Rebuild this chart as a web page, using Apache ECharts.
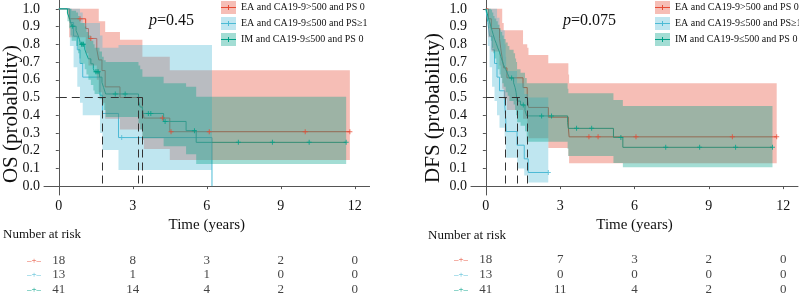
<!DOCTYPE html>
<html lang="en">
<head>
<meta charset="UTF-8">
<title>KM curves</title>
<script src="https://cdn.jsdelivr.net/npm/echarts@6/dist/echarts.min.js"></script>
<style>
  body { margin: 0; background: #fff; }
  #main { width: 799px; height: 297px; }
</style>
</head>
<body>
<div id="main"></div>
<script>
var groupNames = ['EA and CA19-9>500 and PS 0', 'EA and CA19-9\u2264500 and PS\u22651', 'IM and CA19-9\u2264500 and PS 0'];
var riskTimes = [0, 3, 6, 9, 12];
var xTicks = [0, 3, 6, 9, 12];
var yTicks = [0, 0.1, 0.2, 0.3, 0.4, 0.5, 0.6, 0.7, 0.8, 0.9, 1.0];
var pValues = ['0.45', '0.075'];
var yTitles = ['OS (probability)', 'DFS (probability)'];

// ---- OS ----
var osTime0  = [0, 0.42, 1.09, 1.2, 1.54, 1.62, 1.75, 1.88, 2.48, 3.39, 3.45, 4.5];
var osSurv0  = [1, 0.944, 0.889, 0.833, 0.772, 0.712, 0.652, 0.56, 0.5, 0.44, 0.384, 0.307];
var osUpper0 = [1, 1, 1, 1, 1, 0.93, 0.93, 0.87, 0.826, 0.73, 0.73, 0.654];
var osLower0 = [1, 0.84, 0.75, 0.68, 0.6, 0.53, 0.47, 0.38, 0.32, 0.26, 0.21, 0.148];
var osCensor0 = [0.86, 1.3, 4.2, 4.55, 6.1, 9.99, 11.8];

var osTime1  = [0, 0.45, 0.6, 0.75, 0.86, 0.97, 1.67, 1.77, 2.42, 6.21];
var osSurv1  = [1, 0.923, 0.846, 0.769, 0.692, 0.615, 0.513, 0.41, 0.274, 0];
var osUpper1 = [1, 1, 1, 1, 0.98, 0.92, 0.85, 0.78, 0.796, null];
var osLower1 = [1, 0.79, 0.67, 0.56, 0.47, 0.40, 0.30, 0.204, 0.091, null];
var osCensor1 = [2.55];

var osTime2  = [0, 0.35, 0.42, 0.48, 0.52, 0.7, 0.78, 0.84, 0.88, 1.05, 1.12, 1.2, 1.3, 1.4, 1.45, 1.65, 1.75, 1.82, 1.9, 3.23, 3.3, 3.39, 4.25, 5.16, 5.57];
var osSurv2  = [1, 0.976, 0.951, 0.927, 0.902, 0.877, 0.851, 0.826, 0.80, 0.773, 0.745, 0.718, 0.69, 0.663, 0.645, 0.615, 0.585, 0.555, 0.52, 0.48, 0.446, 0.41, 0.365, 0.313, 0.247];
var osUpper2 = [1, 1, 1, 1, 0.99, 0.98, 0.96, 0.94, 0.92, 0.90, 0.87, 0.85, 0.82, 0.80, 0.78, 0.76, 0.73, 0.71, 0.70, 0.68, 0.66, 0.617, 0.58, 0.56, 0.504];
var osLower2 = [1, 0.93, 0.89, 0.85, 0.82, 0.79, 0.75, 0.72, 0.69, 0.66, 0.63, 0.60, 0.57, 0.54, 0.52, 0.49, 0.46, 0.43, 0.39, 0.355, 0.32, 0.27, 0.225, 0.18, 0.125];
var osCensor2 = [0.55, 0.92, 0.97, 1.0, 1.5, 1.55, 1.6, 2.29, 2.69, 3.63, 3.73, 4.31, 5.5, 7.28, 8.66, 10.15, 11.65];

var osMedians = [1.77, 3.23, 3.39];
var osRisk0 = [18, 8, 3, 2, 0];
var osRisk1 = [13, 1, 1, 0, 0];
var osRisk2 = [41, 14, 4, 2, 0];

// ---- DFS ----
var dfsTime0  = [0, 0.1, 0.22, 0.55, 0.6, 0.66, 0.72, 0.85, 1.5, 1.67, 1.72, 2.52, 3.33, 3.36];
var dfsSurv0  = [1, 0.944, 0.889, 0.833, 0.778, 0.722, 0.667, 0.611, 0.556, 0.5, 0.444, 0.389, 0.333, 0.278];
var dfsUpper0 = [1, 1, 1, 1, 1, 0.92, 0.88, 0.88, 0.80, 0.78, 0.74, 0.693, 0.63, 0.58];
var dfsLower0 = [1, 0.84, 0.76, 0.68, 0.61, 0.55, 0.49, 0.43, 0.38, 0.33, 0.27, 0.215, 0.17, 0.129];
var dfsCensor0 = [4.16, 4.53, 6.06, 9.95, 11.74];

var dfsTime1  = [0, 0.08, 0.15, 0.25, 0.35, 0.45, 0.55, 0.76, 0.8, 0.82, 1.26, 1.55, 1.71];
var dfsSurv1  = [1, 0.923, 0.846, 0.769, 0.692, 0.615, 0.538, 0.462, 0.385, 0.308, 0.231, 0.154, 0.077];
var dfsUpper1 = [1, 1, 1, 1, 1, 0.95, 0.88, 0.80, 0.73, 0.65, 0.58, 0.52, 0.50];
var dfsLower1 = [1, 0.79, 0.67, 0.56, 0.48, 0.40, 0.33, 0.27, 0.21, 0.16, 0.10, 0.06, 0.02];
var dfsCensor1 = [2.52];

var dfsTime2  = [0, 0.05, 0.1, 0.15, 0.2, 0.25, 0.3, 0.35, 0.42, 0.48, 0.55, 0.6, 0.66, 0.72, 0.8, 0.88, 0.95, 1.12, 1.18, 1.22, 1.26, 1.4, 1.58, 1.65, 3.3, 3.33, 5.15, 5.53];
var dfsSurv2  = [1, 0.976, 0.951, 0.927, 0.902, 0.878, 0.854, 0.829, 0.805, 0.78, 0.756, 0.732, 0.707, 0.683, 0.659, 0.634, 0.61, 0.583, 0.556, 0.529, 0.48, 0.458, 0.427, 0.396, 0.36, 0.326, 0.275, 0.219];
var dfsUpper2 = [1, 1, 1, 1, 0.995, 0.98, 0.96, 0.945, 0.93, 0.91, 0.89, 0.87, 0.85, 0.83, 0.81, 0.79, 0.77, 0.75, 0.72, 0.70, 0.66, 0.64, 0.61, 0.58, 0.55, 0.524, 0.486, 0.452];
var dfsLower2 = [1, 0.93, 0.89, 0.85, 0.82, 0.78, 0.75, 0.72, 0.69, 0.66, 0.63, 0.61, 0.58, 0.56, 0.53, 0.51, 0.48, 0.46, 0.43, 0.40, 0.36, 0.34, 0.31, 0.25, 0.21, 0.17, 0.13, 0.106];
var dfsCensor2 = [1.04, 1.51, 2.25, 2.65, 3.66, 4.27, 5.45, 7.26, 8.63, 10.08, 11.57];

var dfsMedians = [0.80, 1.26, 1.67];
var dfsRisk0 = [18, 7, 3, 2, 0];
var dfsRisk1 = [13, 0, 0, 0, 0];
var dfsRisk2 = [41, 11, 4, 2, 0];

// ---- styling ----
var FONT = 'Liberation Serif';
var colors = ['#E64B35', '#4DBBD5', '#00A087'];
var fills = ['rgba(230,75,53,0.36)', 'rgba(77,187,213,0.36)', 'rgba(0,160,135,0.36)'];
var plusSymbol = 'path://M4,0h2v4h4v2h-4v4h-2v-4h-4v-2h4z';
var legendIcon = 'path://M0,0h0.01v0.01h-0.01z M15,13h-0.01v-0.01h0.01z M0,6h15v1h-15z M7,4h1v5h-1z';

function curve(time, surv, upper, lower, censor) {
    var end = Math.max(time[time.length - 1], Math.max.apply(null, censor));
    return { time: time, surv: surv, upper: upper, lower: lower, censor: censor, end: end };
}

var osCurves = [
    curve(osTime0, osSurv0, osUpper0, osLower0, osCensor0),
    curve(osTime1, osSurv1, osUpper1, osLower1, osCensor1),
    curve(osTime2, osSurv2, osUpper2, osLower2, osCensor2)
];
var dfsCurves = [
    curve(dfsTime0, dfsSurv0, dfsUpper0, dfsLower0, dfsCensor0),
    curve(dfsTime1, dfsSurv1, dfsUpper1, dfsLower1, dfsCensor1),
    curve(dfsTime2, dfsSurv2, dfsUpper2, dfsLower2, dfsCensor2)
];

function survAt(c, t) {
    var s = c.surv[0];
    for (var i = 0; i < c.time.length; i++) {
        if (c.time[i] <= t) s = c.surv[i];
    }
    return s;
}

function plotSeries(curves, ax, medians) {
    var out = [];
    // lines first, bands drawn over them
    curves.forEach(function (c, k) {
        var pts = c.time.map(function (t, i) { return [t, c.surv[i]]; });
        pts.push([c.end, c.surv[c.surv.length - 1]]);
        out.push({
            type: 'line', name: groupNames[k], xAxisIndex: ax, yAxisIndex: ax,
            data: pts, step: 'end', symbol: 'none', z: 1, silent: true,
            lineStyle: { color: colors[k], width: 1 }, itemStyle: { color: colors[k] }
        });
    });
    curves.forEach(function (c, k) {
        out.push({
            type: 'custom', name: 'band' + ax + k, xAxisIndex: ax, yAxisIndex: ax,
            data: [[0, 0]], encode: { x: 0, y: 1 }, z: 2, silent: true,
            renderItem: function (params, api) {
                var top = [], bottom = [];
                for (var i = 0; i < c.time.length; i++) {
                    if (c.upper[i] == null) break;
                    var t1 = (i + 1 < c.time.length) ? c.time[i + 1] : c.end;
                    top.push(api.coord([c.time[i], c.upper[i]]), api.coord([t1, c.upper[i]]));
                    bottom.push(api.coord([c.time[i], c.lower[i]]), api.coord([t1, c.lower[i]]));
                }
                return {
                    type: 'polygon',
                    shape: { points: top.concat(bottom.reverse()) },
                    style: { fill: fills[k] }
                };
            }
        });
    });
    curves.forEach(function (c, k) {
        var s = {
            type: 'scatter', name: 'cens' + ax + k, xAxisIndex: ax, yAxisIndex: ax,
            data: c.censor.map(function (t) { return [t, survAt(c, t)]; }),
            symbol: plusSymbol, symbolSize: 5, z: 3, silent: true,
            itemStyle: { color: colors[k] }
        };
        if (k === curves.length - 1) {
            var ml = [[{ coord: [0, 0.5] }, { coord: [Math.max.apply(null, medians), 0.5] }]];
            medians.forEach(function (m) {
                ml.push([{ coord: [m, 0.5] }, { coord: [m, 0] }]);
            });
            s.markLine = {
                silent: true, symbol: ['none', 'none'], label: { show: false },
                lineStyle: { color: '#333', width: 1, type: [8, 5] },
                data: ml
            };
        }
        out.push(s);
    });
    return out;
}

function riskSeries(rows, ax) {
    var data = [];
    rows.forEach(function (row, r) {
        row.forEach(function (v, j) { data.push([riskTimes[j], r, v]); });
    });
    return {
        type: 'scatter', name: 'risk' + ax, xAxisIndex: ax, yAxisIndex: ax,
        data: data, symbolSize: 1, silent: true,
        itemStyle: { color: 'transparent' },
        label: {
            show: true, position: 'inside', color: '#111', fontSize: 13, fontFamily: FONT,
            formatter: function (p) { return String(p.data[2]); }
        }
    };
}

function plotX(idx) {
    return {
        type: 'value', gridIndex: idx, min: -0.6, max: 12.6,
        name: 'Time (years)', nameLocation: 'middle', nameGap: 20,
        nameTextStyle: { fontSize: 15, color: '#111', fontFamily: FONT },
        axisLine: { lineStyle: { color: '#555' } },
        axisTick: { length: 3, customValues: xTicks, lineStyle: { color: '#555' } },
        axisLabel: { customValues: xTicks, margin: 4, fontSize: 14, color: '#111', fontFamily: FONT },
        splitLine: { show: false }
    };
}

function plotY(idx) {
    return {
        type: 'value', gridIndex: idx, min: -0.05, max: 1.05,
        axisLine: { show: true, lineStyle: { color: '#555' } },
        axisTick: { show: true, length: 3, customValues: yTicks, lineStyle: { color: '#555' } },
        axisLabel: {
            customValues: yTicks, margin: 4, fontSize: 14, color: '#111', fontFamily: FONT,
            formatter: function (v) { return v.toFixed(1); }
        },
        splitLine: { show: false }
    };
}

function riskX(idx) {
    return { type: 'value', gridIndex: idx, min: -0.6, max: 12.6, show: false };
}

function riskY(idx) {
    var rich = {};
    colors.forEach(function (c, k) { rich['m' + k] = { color: c, fontSize: 9, fontFamily: FONT }; });
    return {
        type: 'category', gridIndex: idx, data: ['0', '1', '2'], inverse: true,
        axisLine: { show: false }, axisTick: { show: false }, splitLine: { show: false },
        axisLabel: {
            interval: 0, margin: 3, rich: rich,
            formatter: function (v) { return '{m' + v + '|\u2013+\u2013}'; }
        }
    };
}

function legends(left) {
    var base = {
        left: left, top: 1, orient: 'vertical', padding: 0,
        itemWidth: 15, itemHeight: 13, itemGap: 3, selectedMode: false
    };
    var a = Object.assign({}, base, {
        icon: 'rect',
        data: groupNames.map(function (n, k) { return { name: n, itemStyle: { color: fills[k], borderWidth: 0 } }; }),
        textStyle: { color: 'rgba(0,0,0,0)', fontSize: 10, fontFamily: FONT }
    });
    var b = Object.assign({}, base, {
        z: 5, icon: legendIcon,
        data: groupNames.map(function (n, k) { return { name: n, itemStyle: { color: colors[k], borderWidth: 0 } }; }),
        textStyle: { color: '#111', fontSize: 10, fontFamily: FONT }
    });
    return [a, b];
}

function pTitle(txt, left) {
    return {
        text: '{i|p}{n|=' + txt + '}', left: left, top: 13, padding: 0,
        textStyle: {
            fontWeight: 'normal', rich: {
                i: { fontStyle: 'italic', fontSize: 16, color: '#111', fontFamily: FONT },
                n: { fontSize: 16, color: '#111', fontFamily: FONT }
            }
        }
    };
}

function riskTitle(left, top) {
    return {
        text: 'Number at risk', left: left, top: top, padding: 0,
        textStyle: { fontWeight: 'normal', fontSize: 13, color: '#111', fontFamily: FONT }
    };
}

function yTitle(txt, x, y) {
    return {
        type: 'text', x: x, y: y, rotation: Math.PI / 2, silent: true,
        style: {
            text: txt, fill: '#111', font: '21px "Liberation Serif"',
            textAlign: 'center', textVerticalAlign: 'middle'
        }
    };
}

var option = {
    animation: false,
    backgroundColor: '#ffffff',
    textStyle: { fontFamily: FONT },
    title: [pTitle(pValues[0], 149), pTitle(pValues[1], 563), riskTitle(3, 228), riskTitle(428, 229)],
    legend: legends(221).concat(legends(655)),
    graphic: [yTitle(yTitles[0], 11, 114), yTitle(yTitles[1], 433, 108)],
    grid: [
        { left: 44, top: 0, width: 325.6, height: 195 },
        { left: 471, top: 0, width: 327, height: 195 },
        { left: 44, top: 253, width: 325.6, height: 46 },
        { left: 471, top: 252, width: 327, height: 47 }
    ],
    xAxis: [plotX(0), plotX(1), riskX(2), riskX(3)],
    yAxis: [plotY(0), plotY(1), riskY(2), riskY(3)],
    series: plotSeries(osCurves, 0, osMedians)
        .concat(plotSeries(dfsCurves, 1, dfsMedians))
        .concat([riskSeries([osRisk0, osRisk1, osRisk2], 2), riskSeries([dfsRisk0, dfsRisk1, dfsRisk2], 3)])
};

var myChart = echarts.init(document.getElementById('main'));
myChart.setOption(option);
</script>
</body>
</html>
